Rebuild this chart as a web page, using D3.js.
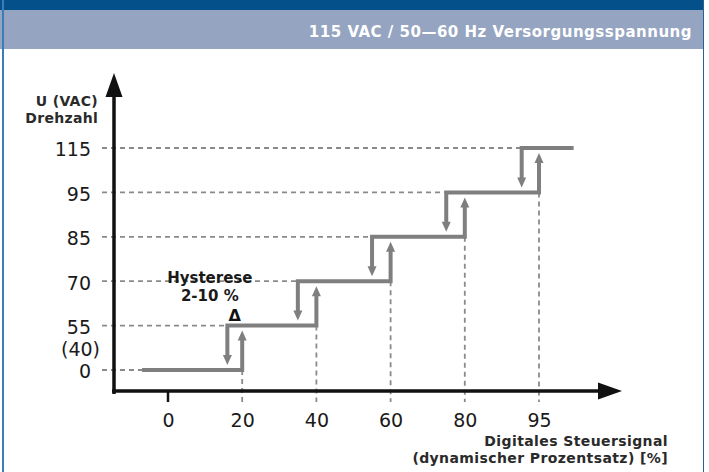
<!DOCTYPE html>
<html><head>
<meta charset="utf-8">
<script src="https://d3js.org/d3.v7.min.js"></script>
<style>
  body { margin: 0; background: #fff; }
  svg { display: block; font-family: "DejaVu Sans", Verdana, sans-serif; }
</style>
</head>
<body>
<svg id="chart" width="709" height="472"></svg>
<script>
// ---- data ----
const xTicks = [0, 20, 40, 60, 80, 95];          // digital control signal [%]
const yTicks = [0, 55, 70, 85, 95, 115];         // U (VAC)
const levels = [0, 55, 70, 85, 95, 115];         // step levels
const upAt   = [20, 40, 60, 80, 95];             // switch up when signal rises
const downAt = [16, 35, 55, 75, 91.5];           // switch down when signal falls (hysteresis)
const lineStart = -7, lineEnd = 102;
const extraYLabel = "(40)";
const title = "115 VAC / 50\u201460 Hz Versorgungsspannung";
const yTitle = ["U (VAC)", "Drehzahl"];
const xTitle = ["Digitales Steuersignal", "(dynamischer Prozentsatz) [%]"];
const hystLabel = ["Hysterese", "2-10 %"];

const svg = d3.select("#chart");

// header + frame
svg.append("rect").attr("x", 0).attr("y", 0).attr("width", 704).attr("height", 10).attr("fill", "#03508a");
svg.append("rect").attr("x", 0).attr("y", 10).attr("width", 704).attr("height", 39).attr("fill", "#95a4c1");
svg.append("text").attr("x", 692).attr("y", 37).attr("text-anchor", "end")
   .attr("fill", "#fff").style("font-weight", "bold").style("font-size", "15px")
   .style("letter-spacing", "0.5px").text(title);
svg.append("line").attr("x1", 3).attr("x2", 3).attr("y1", 0).attr("y2", 472)
   .attr("stroke", "#3b7db8").attr("stroke-width", 2);
svg.append("line").attr("x1", 703.5).attr("x2", 703.5).attr("y1", 0).attr("y2", 472)
   .attr("stroke", "#2d5f93").attr("stroke-width", 1);

// scales: ticks are evenly spaced on both axes (piecewise linear)
const x = d3.scaleLinear().domain(xTicks).range(xTicks.map((d, i) => 168 + i * 74.2));
const y = d3.scaleLinear().domain(yTicks).range(yTicks.map((d, i) => 370 - i * 44.4));
const axisY = 391, axisX = 114;

const dashCol = "#8a8a8a", stepCol = "#7f7f7f";

// dashed guide lines
const g = svg.append("g");
levels.forEach((lv, i) => {
  g.append("line")
   .attr("x1", 102).attr("x2", i === 0 ? x(lineStart) : x(downAt[i - 1]))
   .attr("y1", y(lv)).attr("y2", y(lv))
   .attr("stroke", dashCol).attr("stroke-width", 1.8).attr("stroke-dasharray", "5,4");
});
upAt.forEach((u, i) => {
  g.append("line")
   .attr("x1", x(u)).attr("x2", x(u))
   .attr("y1", y(levels[i])).attr("y2", axisY + 11)
   .attr("stroke", dashCol).attr("stroke-width", 1.8).attr("stroke-dasharray", "5,4");
});

// step lines with hysteresis arrows
const gap = 5, head = 10, hw = 4.5;
levels.forEach((lv, i) => {
  const pts = [];
  if (i > 0) {
    pts.push([x(downAt[i - 1]), y(levels[i - 1]) - gap - head + 1]);
  }
  pts.push([i === 0 ? x(lineStart) : x(downAt[i - 1]), y(lv)]);
  if (i < levels.length - 1) {
    pts.push([x(upAt[i]), y(lv)]);
    pts.push([x(upAt[i]), y(levels[i + 1]) + gap + head - 1]);
  } else {
    pts.push([x(lineEnd), y(lv)]);
  }
  g.append("path").attr("d", d3.line()(pts))
   .attr("fill", "none").attr("stroke", stepCol).attr("stroke-width", 4)
   .attr("stroke-linejoin", "miter");
  // arrow heads
  if (i > 0) {
    const ax = x(downAt[i - 1]), tip = y(levels[i - 1]) - gap;
    g.append("path").attr("d", d3.line()([[ax - hw, tip - head], [ax + hw, tip - head], [ax, tip]]) + "Z")
     .attr("fill", stepCol);
  }
  if (i < levels.length - 1) {
    const ax = x(upAt[i]), tip = y(levels[i + 1]) + gap;
    g.append("path").attr("d", d3.line()([[ax - hw, tip + head], [ax + hw, tip + head], [ax, tip]]) + "Z")
     .attr("fill", stepCol);
  }
});

// axes lines with arrows
const axCol = "#111";
svg.append("line").attr("x1", axisX).attr("x2", axisX).attr("y1", axisY + 3).attr("y2", 95)
   .attr("stroke", axCol).attr("stroke-width", 3.5);
svg.append("path").attr("d", d3.line()([[axisX, 73], [axisX - 8.5, 97], [axisX + 8.5, 97]]) + "Z").attr("fill", axCol);
svg.append("line").attr("x1", axisX - 2).attr("x2", 600).attr("y1", axisY).attr("y2", axisY)
   .attr("stroke", axCol).attr("stroke-width", 3.5);
svg.append("path").attr("d", d3.line()([[622, axisY], [598, axisY - 8.5], [598, axisY + 8.5]]) + "Z").attr("fill", axCol);
svg.append("line").attr("x1", x(0)).attr("x2", x(0)).attr("y1", axisY).attr("y2", axisY + 11)
   .attr("stroke", axCol).attr("stroke-width", 2.5);

// tick labels via d3 axes
const xAxis = svg.append("g").attr("transform", `translate(0,${axisY})`)
  .call(d3.axisBottom(x).tickValues(xTicks).tickSize(0).tickPadding(23).tickFormat(d3.format("d")));
const yAxis = svg.append("g").attr("transform", `translate(${axisX},0)`)
  .call(d3.axisLeft(y).tickValues(yTicks).tickSize(0).tickPadding(23).tickFormat(d3.format("d")));
[xAxis, yAxis].forEach(a => {
  a.select(".domain").remove();
  a.selectAll("text").attr("fill", "#1a1a1a").style("font-size", "19px")
   .style("font-family", "'DejaVu Sans', Verdana, sans-serif");
});
yAxis.selectAll("text").attr("dy", "0.42em");
svg.append("text").attr("x", 100).attr("y", (y(55) + y(0)) / 2).attr("dy", "0.42em")
   .attr("text-anchor", "end").attr("fill", "#1a1a1a").style("font-size", "19px").text(extraYLabel);

// axis titles
const bold = sel => sel.attr("fill", "#2a2a2a").style("font-weight", "bold").style("font-size", "14px");
yTitle.forEach((t, i) => svg.append("text").attr("x", 98).attr("y", 106 + i * 17)
  .attr("text-anchor", "end").call(bold).style("letter-spacing", "0.3px").text(t));
xTitle.forEach((t, i) => svg.append("text").attr("x", 668).attr("y", 446 + i * 17)
  .attr("text-anchor", "end").call(bold).style("letter-spacing", "0.4px").text(t));

// hysteresis annotation
const hx = (x(downAt[0]) + x(upAt[0])) / 2;
hystLabel.forEach((t, i) => svg.append("text").attr("x", hx - 25).attr("y", 283 + i * 18)
  .attr("text-anchor", "middle").call(bold).attr("fill", "#1a1a1a").style("font-size", "15px").text(t));
svg.append("text").attr("x", hx).attr("y", 321).attr("text-anchor", "middle")
  .attr("fill", "#111").style("font-weight", "bold").style("font-size", "16px").text("\u0394");
</script>
</body></html>
